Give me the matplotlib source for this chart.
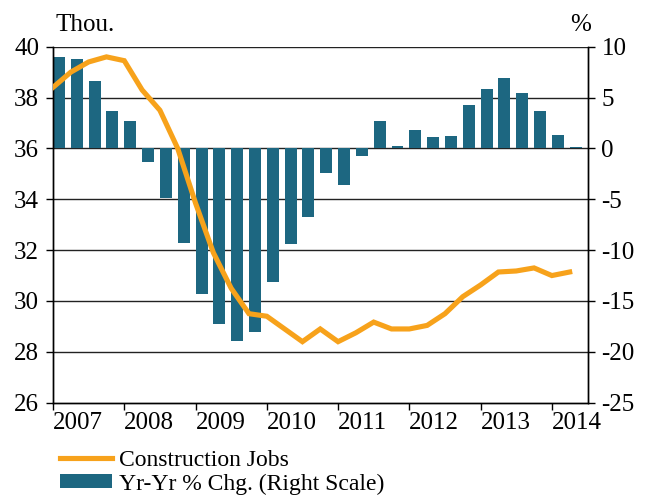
import numpy as np
import matplotlib
matplotlib.use('Agg')
import matplotlib.pyplot as plt
from matplotlib.ticker import FixedLocator

plt.rcParams['font.family'] = ['Liberation Serif', 'DejaVu Serif']
plt.rcParams['axes.unicode_minus'] = False

# quarterly data, 2007 Q1 .. 2014 Q2
start_year = 2007
jobs = [38.4, 39.0, 39.4, 39.6, 39.45, 38.3, 37.5, 36.0, 33.85, 31.9,
        30.5, 29.5, 29.4, 28.9, 28.4, 28.9, 28.4, 28.75, 29.17, 28.9,
        28.9, 29.04, 29.5, 30.17, 30.63, 31.14, 31.18, 31.3, 31.0, 31.14]
yoy_chg = [9.0, 8.8, 6.6, 3.7, 2.7, -1.3, -4.9, -9.3, -14.3, -17.3,
           -18.9, -18.0, -13.1, -9.4, -6.7, -2.4, -3.6, -0.7, 2.7, 0.2,
           1.8, 1.1, 1.2, 4.3, 5.8, 6.9, 5.45, 3.7, 1.3, 0.1]
years = list(range(2007, 2015))
left_ticks = [26, 28, 30, 32, 34, 36, 38, 40]
right_ticks = [-25, -20, -15, -10, -5, 0, 5, 10]

bar_color = '#1D6781'
line_color = '#F7A21B'
fs = 18

x = start_year + 0.25 * np.arange(len(jobs))

fig = plt.figure(figsize=(6.45, 4.97), dpi=100)
ax_bar = fig.add_axes([53 / 645, 1 - 402.7 / 497, 534.5 / 645, 356 / 497])
bars = ax_bar.bar(x, yoy_chg, width=0.168, align='edge', color=bar_color,
                  zorder=2, label='Yr-Yr % Chg. (Right Scale)')
ax_bar.set_ylim(-25, 10)
ax_bar.set_yticks(right_ticks)
ax_bar.set_xlim(start_year, 2014.5)
for t in right_ticks[1:]:
    ax_bar.axhline(t, color='#222222', lw=1.0, zorder=1)

ax_line = ax_bar.twinx()
line, = ax_line.plot(x, jobs, color=line_color, lw=3.7, solid_joinstyle='miter',
                     label='Construction Jobs', zorder=3)
ax_line.set_ylim(26, 40)
ax_line.set_yticks(left_ticks)

# bars read on the right scale, line on the left
ax_bar.yaxis.tick_right()
ax_line.yaxis.tick_left()

for a in (ax_bar, ax_line):
    a.spines['top'].set_visible(False)
    for s in a.spines.values():
        s.set_linewidth(1.0)
    a.tick_params(axis='y', labelsize=fs, length=5, width=1.0, direction='out', pad=5)

ax_bar.xaxis.set_major_locator(FixedLocator(years))
ax_bar.set_xticklabels([str(y) for y in years])
ax_bar.tick_params(axis='x', labelsize=fs, length=5, width=1.0, direction='out', pad=2)
for lbl in ax_bar.get_xticklabels():
    lbl.set_horizontalalignment('left')

fig.text(55 / 645, 1 - 31 / 497, 'Thou.', fontsize=fs, ha='left', va='baseline')
fig.text(581 / 645, 1 - 31 / 497, '%', fontsize=fs, ha='center', va='baseline')

leg = ax_line.legend(handles=[line, bars],
                     labels=['Construction Jobs', 'Yr-Yr % Chg. (Right Scale)'],
                     loc='upper left', bbox_to_anchor=(60 / 645, 1 - 450 / 497),
                     bbox_transform=fig.transFigure, frameon=False, fontsize=17,
                     handlelength=2.2, handleheight=0.55, handletextpad=0.3,
                     labelspacing=0.1, borderpad=0, borderaxespad=0)

fig.savefig('out.png', dpi=100)
plt.close('all')
